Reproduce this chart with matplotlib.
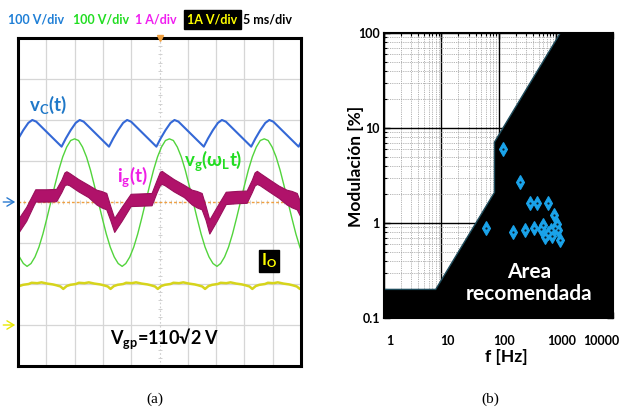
import numpy as np
import matplotlib
matplotlib.use('Agg')
import matplotlib.pyplot as plt
import matplotlib.transforms as mtransforms

plt.rcParams['font.family'] = ['Lato', 'DejaVu Sans']
plt.rcParams['mathtext.fontset'] = 'custom'
plt.rcParams['mathtext.rm'] = 'Lato'
plt.rcParams['mathtext.bf'] = 'Lato:bold'
plt.rcParams['mathtext.it'] = 'Lato:italic'

# ---------------- panel (a): oscilloscope traces (x in divisions of 5 ms, y in divisions)
vc_t = [-0.135, 0.015, 0.185, 0.365, 0.505, 0.645,
        1.54, 1.69, 1.86, 2.04, 2.18, 2.32,
        3.215, 3.365, 3.535, 3.715, 3.855, 3.995,
        4.89, 5.04, 5.21, 5.39, 5.53, 5.67,
        6.565, 6.715, 6.885, 7.065, 7.205, 7.345,
        8.24, 8.39, 8.56, 8.74, 8.88, 9.02,
        9.915, 10.065]
vc_v = [1.35, 1.55, 1.75, 1.93, 2.00, 1.96,
        1.35, 1.55, 1.75, 1.93, 2.00, 1.96,
        1.35, 1.55, 1.75, 1.93, 2.00, 1.96,
        1.35, 1.55, 1.75, 1.93, 2.00, 1.96,
        1.35, 1.55, 1.75, 1.93, 2.00, 1.96,
        1.35, 1.55, 1.75, 1.93, 2.00, 1.96,
        1.35, 1.55]

vg_t = [-0.23, -0.09, 0.05, 0.19, 0.32, 0.46, 0.60, 0.74, 0.88, 1.02, 1.16, 1.30,
        1.44, 1.58, 1.72, 1.86, 2.00, 2.14, 2.28, 2.42, 2.56, 2.70, 2.84, 2.98,
        3.12, 3.26, 3.40, 3.54, 3.68, 3.81, 3.95, 4.09, 4.23, 4.37, 4.51, 4.65,
        4.79, 4.93, 5.07, 5.21, 5.35, 5.49, 5.63, 5.77, 5.91, 6.05, 6.19, 6.33,
        6.47, 6.61, 6.75, 6.89, 7.03, 7.16, 7.30, 7.44, 7.58, 7.72, 7.86, 8.00,
        8.14, 8.28, 8.42, 8.56, 8.70, 8.84, 8.98, 9.12, 9.26, 9.40, 9.54, 9.68,
        9.82, 9.96, 10.10]
vg_v = [-0.78, -1.10, -1.34, -1.50, -1.57, -1.50, -1.34, -1.10, -0.78, -0.40, 0.00, 0.40,
        0.78, 1.10, 1.34, 1.50, 1.54, 1.50, 1.34, 1.10, 0.78, 0.40, 0.00, -0.40,
        -0.78, -1.10, -1.34, -1.50, -1.57, -1.50, -1.34, -1.10, -0.78, -0.40, 0.00, 0.40,
        0.78, 1.10, 1.34, 1.50, 1.54, 1.50, 1.34, 1.10, 0.78, 0.40, 0.00, -0.40,
        -0.78, -1.10, -1.34, -1.50, -1.57, -1.50, -1.34, -1.10, -0.78, -0.40, 0.00, 0.40,
        0.78, 1.10, 1.34, 1.50, 1.54, 1.50, 1.34, 1.10, 0.78, 0.40, 0.00, -0.40,
        -0.78, -1.10, -1.34]

ig_t = [-0.10,
        0.02, 0.29, 0.61, 1.00, 1.35, 1.53, 1.64, 1.71, 1.81, 2.13, 2.48, 2.77, 2.94, 3.12, 3.26, 3.40,
        3.66, 3.98, 4.37, 4.72, 4.90, 5.01, 5.08, 5.18, 5.50, 5.86, 6.14, 6.31, 6.49, 6.63, 6.76,
        7.02, 7.34, 7.73, 8.08, 8.26, 8.36, 8.44, 8.54, 8.86, 9.21, 9.49, 9.67, 9.85, 9.99, 10.12]
ig_mid = [-0.27,
          -0.57, -0.29, 0.16, 0.16, 0.17, 0.39, 0.56, 0.59, 0.56, 0.41, 0.27, 0.12, 0.07, 0.02, -0.27, -0.56,
          -0.29, 0.05, 0.06, 0.07, 0.39, 0.57, 0.60, 0.56, 0.41, 0.27, 0.12, 0.07, 0.02, -0.27, -0.60,
          -0.29, 0.10, 0.12, 0.13, 0.39, 0.56, 0.60, 0.56, 0.41, 0.25, 0.12, 0.07, 0.02, -0.20, -0.45]
ig_half = [0.17,
           0.17, 0.17, 0.15, 0.15, 0.15, 0.15, 0.16, 0.16, 0.15, 0.15, 0.15, 0.18, 0.20, 0.20, 0.17, 0.17,
           0.17, 0.15, 0.15, 0.15, 0.15, 0.16, 0.16, 0.15, 0.15, 0.15, 0.18, 0.20, 0.20, 0.17, 0.17,
           0.17, 0.15, 0.15, 0.15, 0.15, 0.16, 0.16, 0.15, 0.15, 0.15, 0.18, 0.20, 0.20, 0.17, 0.17]

io_t = [-0.07, 0.05, 0.18, 0.38, 0.48, 0.68, 0.83, 1.03, 1.23, 1.35, 1.50,
        1.60, 1.72, 1.85, 2.05, 2.15, 2.35, 2.50, 2.70, 2.90, 3.02, 3.17,
        3.27, 3.39, 3.52, 3.72, 3.82, 4.02, 4.17, 4.37, 4.57, 4.69, 4.84,
        4.94, 5.06, 5.19, 5.39, 5.49, 5.69, 5.84, 6.04, 6.24, 6.36, 6.51,
        6.61, 6.73, 6.86, 7.06, 7.16, 7.36, 7.51, 7.71, 7.91, 8.03, 8.18,
        8.28, 8.40, 8.53, 8.73, 8.83, 9.03, 9.18, 9.38, 9.58, 9.70, 9.85,
        9.96, 10.08]
io_v = [-2.12, -2.05, -2.02, -2.00, -1.97, -1.98, -1.96, -1.99, -2.01, -2.03, -2.06,
        -2.12, -2.05, -2.02, -2.00, -1.97, -1.98, -1.96, -1.99, -2.01, -2.03, -2.06,
        -2.12, -2.05, -2.02, -2.00, -1.97, -1.98, -1.96, -1.99, -2.01, -2.03, -2.06,
        -2.12, -2.05, -2.02, -2.00, -1.97, -1.98, -1.96, -1.99, -2.01, -2.03, -2.06,
        -2.12, -2.05, -2.02, -2.00, -1.97, -1.98, -1.96, -1.99, -2.01, -2.03, -2.06,
        -2.12, -2.05, -2.02, -2.00, -1.97, -1.98, -1.96, -1.99, -2.01, -2.03, -2.06,
        -2.12, -2.05]

scale_labels = ['100 V/div', '100 V/div', '1 A/div', '1A V/div', '5 ms/div']

# ---------------- panel (b): modulation vs frequency
region_f = [1, 1, 8, 85, 85, 1200, 10000, 10000]
region_m = [0.1, 0.2, 0.2, 2.1, 7.1, 100, 100, 0.1]
pts_f = [121, 240, 360, 470, 724, 934, 60, 178, 294, 416, 546, 599, 659, 733, 817, 875, 972, 1070, 1115, 1175]
pts_m = [6.0, 2.72, 1.64, 1.61, 1.64, 1.21, 0.89, 0.80, 0.85, 0.89, 0.86, 0.95, 0.72, 0.78, 0.84, 0.73, 0.88, 0.98, 0.84, 0.67]
xticks_b = [1, 10, 100, 1000, 10000]
xtick_labels_b = ['1', '10', '100', '1000', '10000']
yticks_b = [0.1, 1, 10, 100]
ytick_labels_b = ['0.1', '1', '10', '100']

W, H = 629, 409
fig = plt.figure(figsize=(W / 100, H / 100), dpi=100)

def fx(px):
    return px / W

def fy(py):
    return 1 - py / H

# ---- panel (a)
axa = fig.add_axes([fx(18), fy(366), 283 / W, 328 / H])
axa.set_xlim(0, 10)
axa.set_ylim(-4, 4)
axa.set_xticks([])
axa.set_yticks([])
for s in axa.spines.values():
    s.set_linewidth(2.2)
    s.set_color('black')
    s.set_zorder(10)
for k in range(1, 10):
    if k != 5:
        axa.axvline(k, color='#d6d6d6', lw=0.9, zorder=1)
for k in range(-3, 4):
    if k != 0:
        axa.axhline(k, color='#d6d6d6', lw=0.9, zorder=1)
axa.axvline(5, color='#cfcfcf', lw=0.8, ls=(0, (1.5, 2)), zorder=1)
mt = np.arange(0.2, 10, 0.2)
axa.plot(mt, np.zeros_like(mt), ls='none', marker='|', ms=3, mew=0.7, color='#d0d0d0', zorder=1)
mt2 = np.arange(-3.8, 4, 0.2)
axa.plot(np.full_like(mt2, 5.0), mt2, ls='none', marker='_', ms=3, mew=0.7, color='#d0d0d0', zorder=1)
axa.axhline(0, color='#f0a040', lw=1, ls=(0, (2, 1.5)), zorder=2)
axa.plot([5], [4], marker='v', ms=5, color='#f0a040', clip_on=False, zorder=11)

axa.plot(vg_t, vg_v, color='#52d43c', lw=1.0, zorder=3)
lo = [m - h for m, h in zip(ig_mid, ig_half)]
hi = [m + h for m, h in zip(ig_mid, ig_half)]
axa.fill_between(ig_t, lo, hi, color='#b0126a', lw=0.8, edgecolor='#9a0f5c', zorder=4)
axa.plot(vc_t, vc_v, color='#3468d6', lw=1.5, zorder=5)
axa.plot(io_t, io_v, color='#d6d41c', lw=1.8, zorder=5)

axa.annotate('', xy=(0.0, 0.0), xytext=(-0.62, 0.0),
             arrowprops=dict(arrowstyle='->,head_length=0.5,head_width=0.3', color='#2a7ad0', lw=1.0),
             annotation_clip=False)
axa.annotate('', xy=(0.0, -3.0), xytext=(-0.62, -3.0),
             arrowprops=dict(arrowstyle='->,head_length=0.5,head_width=0.3', color='#e8e800', lw=1.0),
             annotation_clip=False)

axa.text(1.06, 2.37, r'$\mathbf{v_C(t)}$', color='#1f78c8', fontsize=13.5, ha='center', va='center', zorder=6)
axa.text(4.03, 0.62, r'$\mathbf{i_g(t)}$', color='#f01ee6', fontsize=13.5, ha='center', va='center', zorder=6)
axa.text(6.89, 1.02, r'$\mathbf{v_g(\omega_L t)}$', color='#22dd22', fontsize=13.5, ha='center', va='center', zorder=6)
axa.text(8.87, -1.44, r'$\mathbf{I_O}$', color='#ffff00', fontsize=12, ha='center', va='center', zorder=6,
         bbox=dict(facecolor='black', edgecolor='black', pad=1.2))
axa.text(5.19, -3.34, r'$\mathbf{V_{gp}}$=110√2 V', color='black', fontsize=13, fontweight='bold',
         ha='center', va='center', zorder=6)

# scale labels above panel (a)
lab_colors = ['#1f7fd6', '#22dd22', '#f01ef0', '#ffff00', 'black']
lab_x = [8, 73, 135, 187, 243]
for txt, c, x in zip(scale_labels, lab_colors, lab_x):
    kw = {}
    if txt == '1A V/div':
        kw['bbox'] = dict(facecolor='black', edgecolor='black', pad=2.5)
    fig.text(fx(x), fy(19), txt, color=c, fontsize=9, fontweight='bold', ha='left', va='center', **kw)

# ---- panel (b)
axb = fig.add_axes([fx(384), fy(318), 229 / W, 285 / H])
axb.set_xscale('log')
axb.set_yscale('log')
axb.set_xlim(1, 10000)
axb.set_ylim(0.1, 100)
axb.set_axisbelow(True)
axb.grid(which='minor', color='#9a9a9a', lw=0.6, ls=(0, (1, 1.2)))
axb.grid(which='major', color='black', lw=1.0)
axb.fill(region_f, region_m, facecolor='black', edgecolor='#1d4a5a', lw=1.0, zorder=2)
axb.plot(pts_f, pts_m, ls='none', marker='d', ms=7.5, mfc='#1aa3ea', mec='#1aa3ea', mew=0.8, zorder=3)
axb.plot(pts_f, pts_m, ls='none', marker='o', ms=1.6, mfc='#0a1a25', mec='none', zorder=4)
axb.set_xticks(xticks_b)
axb.set_xticklabels(xtick_labels_b, fontsize=9, fontweight='bold')
axb.set_yticks(yticks_b)
axb.set_yticklabels(ytick_labels_b, fontsize=9, fontweight='bold')
axb.tick_params(which='both', direction='in', top=True, right=True)
axb.tick_params(which='major', length=4, width=1)
axb.tick_params(which='minor', length=2.5, width=0.8)
axb.tick_params(axis='x', which='major', pad=12)
axb.tick_params(axis='y', which='major', pad=3)
for lab in axb.get_xticklabels():
    lab.set_transform(lab.get_transform() + mtransforms.ScaledTranslation(6 / 100, 0, fig.dpi_scale_trans))
xl = axb.get_xticklabels()
xl[-1].set_horizontalalignment('right')
for s in axb.spines.values():
    s.set_linewidth(1.5)
    s.set_zorder(10)

fig.text(fx(529), fy(283), 'Area\nrecomendada', color='white', fontsize=15, fontweight='bold',
         ha='center', va='center', linespacing=1.15)
fig.text(fx(356), fy(166), 'Modulación [%]', rotation=90, fontsize=12.5, fontweight='bold',
         ha='center', va='center')
fig.text(fx(506), fy(357), 'f [Hz]', fontsize=12.5, fontweight='bold', ha='center', va='center')

fig.text(fx(155), fy(399), '(a)', fontsize=11, family='Liberation Serif', ha='center', va='center')
fig.text(fx(490), fy(399), '(b)', fontsize=11, family='Liberation Serif', ha='center', va='center')

fig.savefig('out.png', dpi=100)
